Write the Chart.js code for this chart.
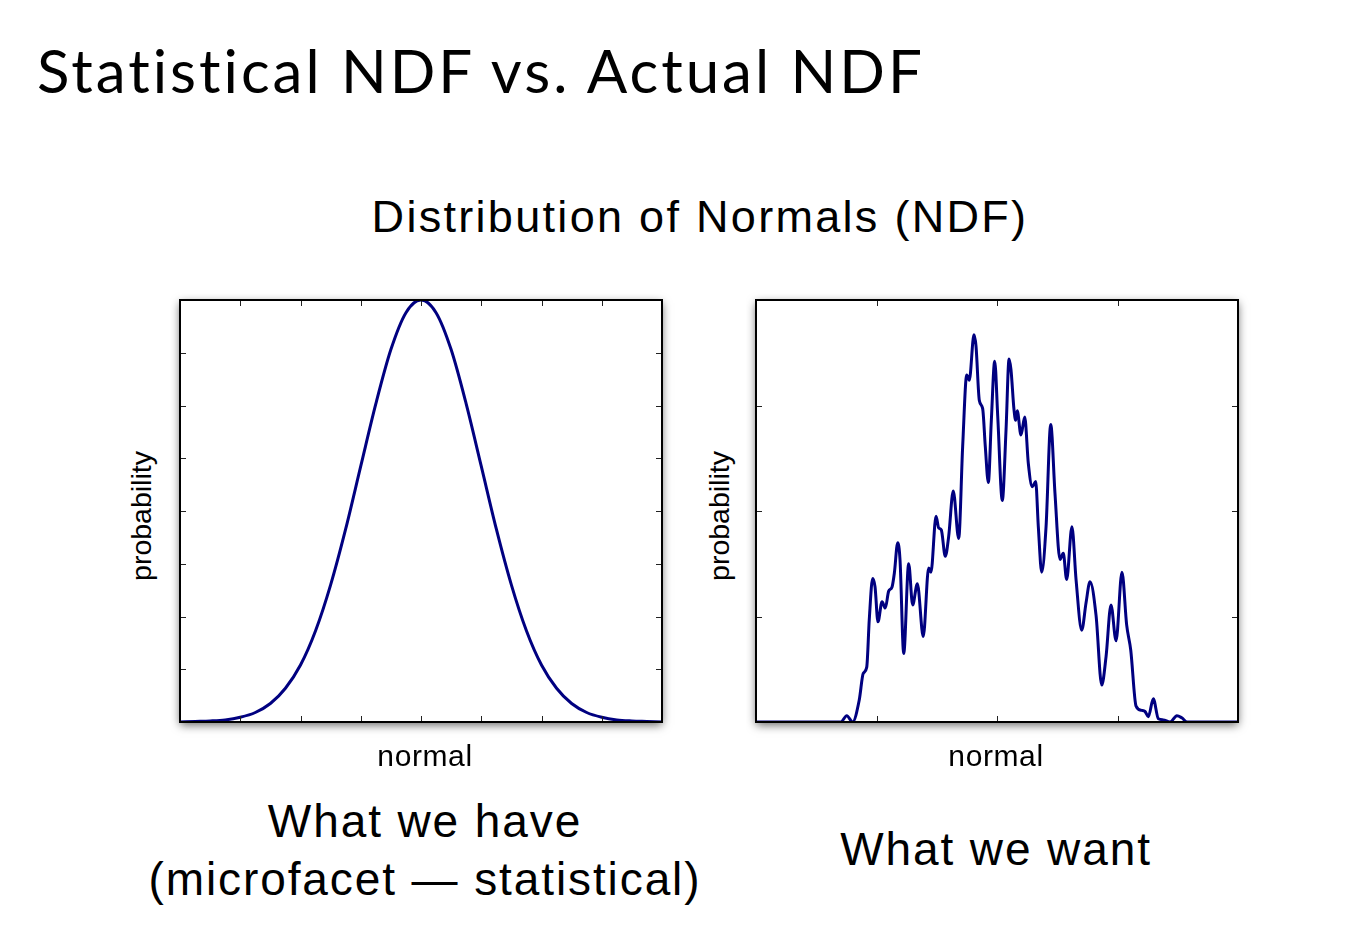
<!DOCTYPE html>
<html>
<head>
<meta charset="utf-8">
<script src="https://cdn.jsdelivr.net/npm/chart.js@4.4.1/dist/chart.umd.min.js"></script>
<style>
    html, body { margin: 0; padding: 0; background: #fff; }
    body { width: 1356px; height: 950px; position: relative; overflow: hidden; }
    .txt { position: absolute; white-space: nowrap; color: #000; font-family: "Liberation Sans", Helvetica, Arial, sans-serif; }
    .title { left: 37px; top: 30px; font-family: Lato, "Noto Sans", sans-serif; font-size: 60px; line-height: 80px;
             letter-spacing: 3px; font-variant-ligatures: none; }
    .subtitle { left: 700px; top: 190px; font-size: 45px; line-height: 54px; letter-spacing: 2.3px; transform: translateX(-50%); }
    .xlab { top: 738px; font-size: 30px; line-height: 36px; letter-spacing: 0.6px; transform: translateX(-50%); }
    .ylab { top: 516px; font-size: 28.5px; line-height: 34px; transform: translate(-50%, -50%) rotate(-90deg); }
    .cap { font-size: 46px; line-height: 58px; letter-spacing: 1.9px; transform: translateX(-50%); text-align: center; }
    .box { position: absolute; }
</style>
</head>
<body>
<div class="txt title">Statistical NDF vs. Actual NDF</div>
<div class="txt subtitle">Distribution of Normals (NDF)</div>

<div class="box" style="left:170px; top:290px; width:510px; height:450px;"><canvas id="haveChart"></canvas></div>
<div class="box" style="left:746px; top:290px; width:510px; height:450px;"><canvas id="wantChart"></canvas></div>

<div class="txt ylab" style="left:141px;">probability</div>
<div class="txt ylab" style="left:719px;">probability</div>
<div class="txt xlab" style="left:425px;">normal</div>
<div class="txt xlab" style="left:996px;">normal</div>

<div class="txt cap" style="left:425px; top:792px;">What we have<br>(microfacet — statistical)</div>
<div class="txt cap" style="left:996px; top:820px;">What we want</div>

<script>
// Left: the smooth statistical NDF
const haveX = [-4, -3.75, -3.5, -3.25, -3, -2.75, -2.5, -2.25, -2, -1.75, -1.5, -1.25, -1, -0.75, -0.5, -0.25,
    0, 0.25, 0.5, 0.75, 1, 1.25, 1.5, 1.75, 2, 2.25, 2.5, 2.75, 3, 3.25, 3.5, 3.75, 4];
const haveY = [0.00, 0.01, 0.02, 0.04, 0.09, 0.18, 0.35, 0.64, 1.08, 1.73, 2.60, 3.66, 4.85, 6.03, 7.06, 7.76,
    8.00, 7.76, 7.06, 6.03, 4.85, 3.66, 2.60, 1.73, 1.08, 0.64, 0.35, 0.18, 0.09, 0.04, 0.02, 0.01, 0.00];
const haveXTicks = [-3, -2, -1, 0, 1, 2, 3];
const haveYTicks = [1, 2, 3, 4, 5, 6, 7];

// Right: the actual measured NDF
const wantX = [0, 0.705, 0.753, 0.802, 0.857, 0.890, 0.919, 0.940, 0.968, 0.988, 1.012, 1.046, 1.073, 1.101,
    1.129, 1.148, 1.176, 1.195, 1.226, 1.267, 1.300, 1.339, 1.388, 1.433, 1.452, 1.494, 1.516, 1.538, 1.571,
    1.599, 1.637, 1.682, 1.715, 1.749, 1.770, 1.809, 1.826, 1.853, 1.881, 1.903, 1.928, 1.953, 1.981, 2.006,
    2.044, 2.075, 2.100, 2.116, 2.141, 2.155, 2.168, 2.199, 2.230, 2.260, 2.293, 2.321, 2.343, 2.371, 2.407,
    2.446, 2.481, 2.523, 2.550, 2.578, 2.622, 2.656, 2.703, 2.739, 2.772, 2.822, 2.869, 2.905, 2.946, 2.988,
    3.037, 3.076, 3.110, 3.154, 3.201, 3.228, 3.256, 3.297, 3.339, 3.380, 3.436, 3.493, 3.533, 3.579, 4];
const wantY = [0, 0, 0.06, 0, 0.21, 0.46, 0.52, 0.97, 1.36, 1.28, 0.95, 1.14, 1.08, 1.24,
    1.28, 1.41, 1.70, 1.54, 0.65, 1.50, 1.11, 1.31, 0.81, 1.46, 1.42, 1.95, 1.84, 1.82, 1.57,
    1.76, 2.19, 1.74, 2.61, 3.29, 3.24, 3.67, 3.56, 3.05, 2.97, 2.61, 2.27, 2.86, 3.42, 2.90,
    2.10, 2.77, 3.44, 3.34, 2.96, 2.86, 2.95, 2.72, 2.89, 2.45, 2.23, 2.28, 1.85, 1.42, 1.85,
    2.82, 2.17, 1.54, 1.60, 1.35, 1.85, 1.35, 0.87, 1.13, 1.33, 1.01, 0.35, 0.62, 1.11, 0.77,
    1.42, 0.92, 0.68, 0.15, 0.11, 0.10, 0.05, 0.22, 0.03, 0.02, 0, 0.06, 0.04, 0, 0];
const wantXTicks = [1, 2, 3];
const wantYTicks = [1, 2, 3];

const lineColor = '#000080';

// white panel with soft drop shadow under the plot area
const panelShadow = {
    id: 'panelShadow',
    beforeDraw(chart) {
        const { ctx, chartArea: a } = chart;
        ctx.save();
        ctx.shadowColor = 'rgba(0,0,0,0.6)';
        ctx.shadowBlur = 9;
        ctx.shadowOffsetX = 0;
        ctx.shadowOffsetY = 3;
        ctx.fillStyle = '#fff';
        ctx.fillRect(a.left, a.top, a.right - a.left, a.bottom - a.top);
        ctx.restore();
    },
};

// matplotlib-style frame with inward ticks on all four sides
const innerFrame = {
    id: 'innerFrame',
    afterDatasetsDraw(chart, args, opts) {
        const { ctx, chartArea: a, scales } = chart;
        const len = 6;
        ctx.save();
        ctx.strokeStyle = '#222';
        ctx.lineWidth = 1;
        ctx.beginPath();
        opts.xTicks.forEach(v => {
            const px = Math.round(scales.x.getPixelForValue(v)) + 0.5;
            ctx.moveTo(px, a.bottom); ctx.lineTo(px, a.bottom - len);
            ctx.moveTo(px, a.top); ctx.lineTo(px, a.top + len);
        });
        opts.yTicks.forEach(v => {
            const py = Math.round(scales.y.getPixelForValue(v)) + 0.5;
            ctx.moveTo(a.left, py); ctx.lineTo(a.left + len, py);
            ctx.moveTo(a.right, py); ctx.lineTo(a.right - len, py);
        });
        ctx.stroke();
        ctx.strokeStyle = '#000';
        ctx.lineWidth = 2;
        ctx.strokeRect(a.left, a.top, a.right - a.left, a.bottom - a.top);
        ctx.restore();
    },
};

function makeChart(id, xs, ys, xMin, xMax, yMax, xTicks, yTicks) {
    return new Chart(document.getElementById(id), {
        type: 'line',
        data: {
            datasets: [{
                data: xs.map((x, i) => ({ x: x, y: ys[i] })),
                borderColor: lineColor,
                borderWidth: 3,
                pointRadius: 0,
                cubicInterpolationMode: 'monotone',
                fill: false,
            }],
        },
        options: {
            responsive: true,
            maintainAspectRatio: false,
            animation: false,
            layout: { padding: { left: 10, top: 10, right: 18, bottom: 18 } },
            plugins: {
                legend: { display: false },
                tooltip: { enabled: false },
                innerFrame: { xTicks: xTicks, yTicks: yTicks },
            },
            scales: {
                x: { type: 'linear', min: xMin, max: xMax, display: false },
                y: { type: 'linear', min: 0, max: yMax, display: false },
            },
        },
        plugins: [panelShadow, innerFrame],
    });
}

makeChart('haveChart', haveX, haveY, -4, 4, 8, haveXTicks, haveYTicks);
makeChart('wantChart', wantX, wantY, 0, 4, 4, wantXTicks, wantYTicks);
</script>
</body>
</html>
